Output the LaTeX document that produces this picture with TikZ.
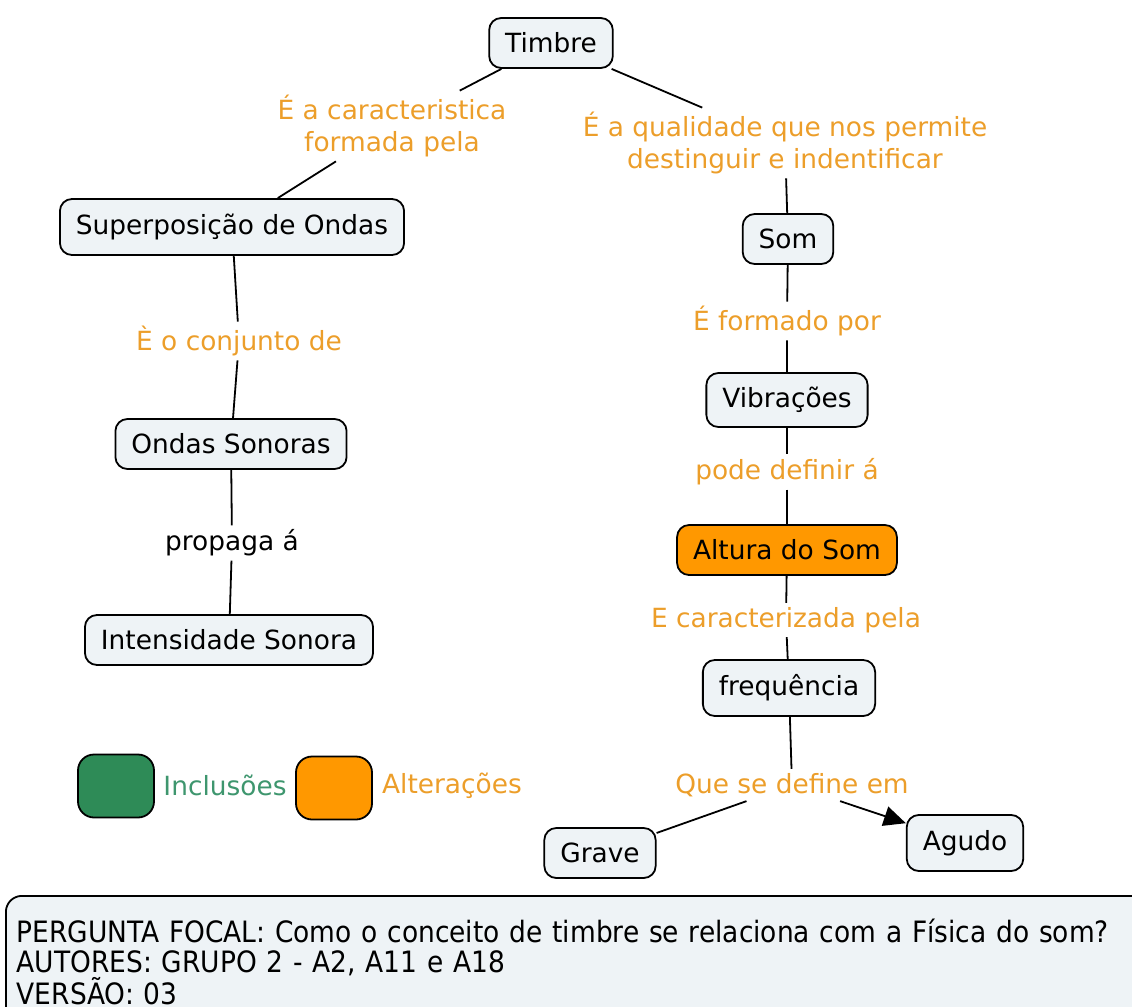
\documentclass[tikz,border=0pt]{standalone}
\usepackage{fontspec}
\setmainfont{DejaVu Sans}
\newfontfamily\condfont{DejaVu Sans Condensed}
\usepackage{xcolor}
\usetikzlibrary{arrows.meta}
\definecolor{cfill}{RGB}{238,243,246}
\definecolor{lblorange}{RGB}{236,158,42}
\definecolor{altorange}{RGB}{255,152,0}
\definecolor{incgreen}{RGB}{46,139,87}
\definecolor{inctext}{RGB}{62,150,110}

\begin{document}
\begin{tikzpicture}[x=0.5pt, y=-0.5pt,
  font=\fontsize{13.2}{16}\selectfont, >={Triangle[length=11pt,width=10pt]},
  concept/.style={draw, line width=0.9pt, rounded corners=6pt, fill=cfill, minimum height=25pt, inner xsep=8pt, inner ysep=3pt},
  lbl/.style={text=lblorange, align=center, inner sep=2pt},
  link/.style={line width=0.9pt},
  key/.style={draw, line width=0.9pt, rounded corners=8pt, minimum width=38pt, minimum height=31.5pt}]
  \useasboundingbox (0,0) rectangle (1132,1007);
  % top
  \node[concept] (timbre) at (551,43) {Timbre};
  \node[lbl] (l_carac) at (392,126) {É a caracteristica\\formada pela};
  \node[lbl] (l_qual) at (785,143) {É a qualidade que nos permite\\destinguir e indentificar};
  % left branch
  \node[concept, minimum height=28pt] (superp) at (232,227) {Superposição de Ondas};
  \node[lbl] (l_conj) at (239,341) {È o conjunto de};
  \node[concept] (ondas) at (231,444) {Ondas Sonoras};
  \node[lbl, text=black] (l_prop) at (232,543) {propaga á};
  \node[concept] (intens) at (229,640) {Intensidade Sonora};
  % right branch
  \node[concept] (som) at (788,239) {Som};
  \node[lbl] (l_form) at (787,321) {É formado por};
  \node[concept, minimum height=27pt] (vibr) at (787,400) {Vibrações};
  \node[lbl] (l_def) at (787,472) {pode definir á};
  \node[concept, fill=altorange] (altura) at (787,550) {Altura do Som};
  \node[lbl] (l_cara) at (786,620) {E caracterizada pela};
  \node[concept, minimum height=28pt] (freq) at (789,688) {frequência};
  \node[lbl] (l_em) at (792,785) {Que se define em};
  \node[concept] (grave) at (600,853) {Grave};
  \node[concept, minimum height=28pt] (agudo) at (965,843) {Agudo};
  % legend
  \node[key, fill=incgreen] (k_inc) at (116,786) {};
  \node[text=inctext] (t_inc) at (225,785) {Inclusões};
  \node[key, fill=altorange] (k_alt) at (334,788) {};
  \node[text=lblorange] (t_alt) at (452,786) {Alterações};
  % focal question
  \node[draw, line width=0.9pt, rounded corners=8pt, fill=cfill, anchor=north west,
    minimum height=66pt, text width=565pt, align=left, inner xsep=5.5pt,
    font=\condfont\fontsize{14.7}{15}\selectfont] (focal) at (5,895)
    {PERGUNTA FOCAL: Como o conceito de timbre se relaciona com a Física do som?\\
     AUTORES: GRUPO 2 - A2, A11 e A18\\
     VERSÃO: 03};
  % links
  \draw[link] (timbre) -- (l_carac) -- (superp);
  \draw[link] (timbre) -- (l_qual) -- (som);
  \draw[link] (superp) -- (l_conj) -- (ondas);
  \draw[link] (ondas) -- (l_prop) -- (intens);
  \draw[link] (som) -- (l_form) -- (vibr);
  \draw[link] (vibr) -- (l_def) -- (altura);
  \draw[link] (altura) -- (l_cara) -- (freq);
  \draw[link] (freq) -- (l_em);
  \draw[link] (l_em) -- (grave);
  \draw[link, ->] (l_em) -- (agudo);
\end{tikzpicture}
\end{document}
